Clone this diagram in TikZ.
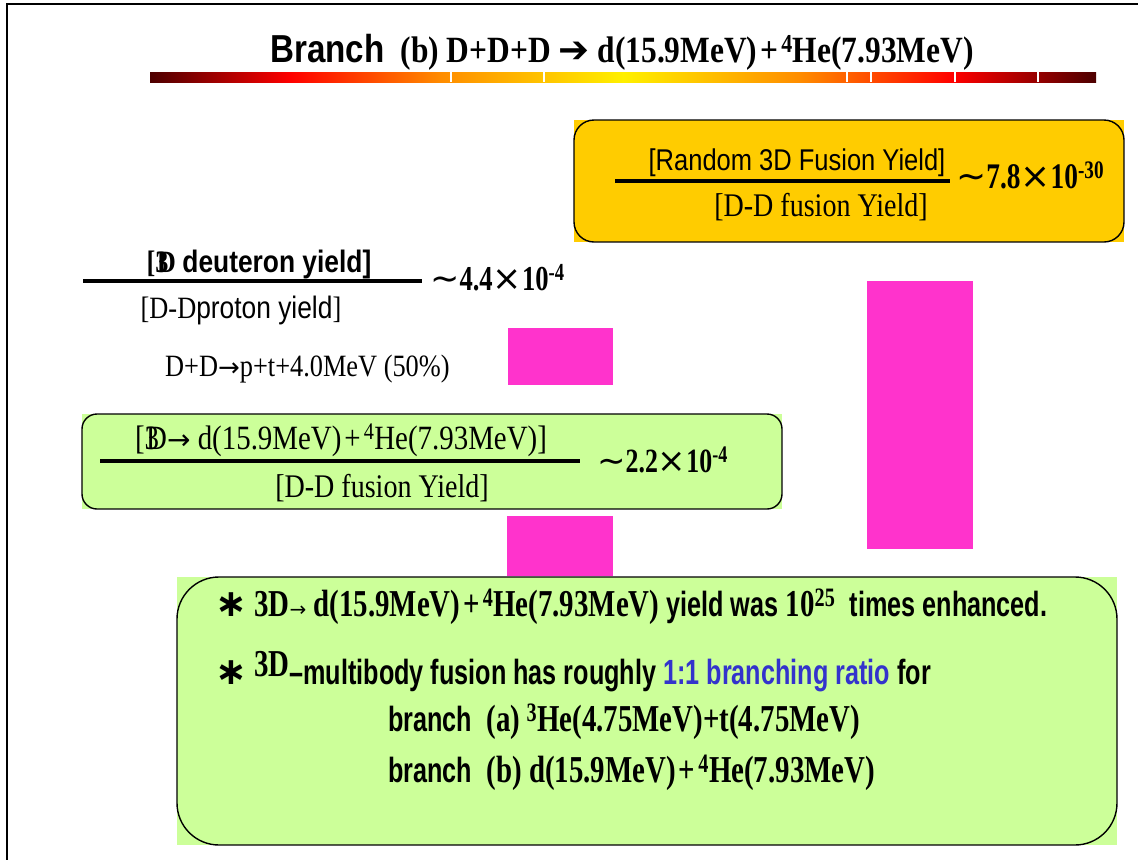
\documentclass[tikz,border=0pt]{standalone}
\usepackage{fontspec}
\setmainfont{Liberation Serif}[FakeStretch=0.85]
\setsansfont{Liberation Sans}[FakeStretch=0.85]
\newfontfamily\glyphfont{DejaVu Sans}
\newfontfamily\boxserif{Liberation Serif}[FakeStretch=0.76]
\newfontfamily\boxsans{Liberation Sans}[FakeStretch=0.72]
\definecolor{slideorange}{HTML}{FFCC00}
\definecolor{slidegreen}{HTML}{CCFF99}
\definecolor{slidepink}{HTML}{FF33CC}
\definecolor{slideblue}{HTML}{3333CC}
\definecolor{bardark}{HTML}{4D0000}
\definecolor{barorange}{HTML}{FF8C00}
\definecolor{baryellow}{HTML}{FFF000}
\newcommand\setfs[1]{\fontsize{#1}{#1}\selectfont}
\newcommand\starmark{{\glyphfont\bfseries ∗}}
\newcommand\approxsign{{\glyphfont\mdseries ∼}}
\newcommand\timessign{{\glyphfont\mdseries ×}}
\newcommand\thinarrow[1]{{\glyphfont\mdseries\setfs{#1}→}}

\begin{document}
\begin{tikzpicture}[x=1pt, y=-1pt,
  txt/.style={inner sep=0pt, anchor=base west},
  ctxt/.style={inner sep=0pt, anchor=base},
  panel/.style={draw=black, line width=1.4pt},
  fracline/.style={line width=3.5pt}
]
\useasboundingbox (0,0) rectangle (1138,860);
\fill[white] (0,0) rectangle (1138,860);
% slide frame
\draw[line width=2.2pt] (1138,4) -- (7,4) -- (7,860);

% title and heat bar
\node[ctxt] (title) at (622,62) {{\setfs{39}\sffamily\bfseries Branch}\hspace{16pt}{\setfs{37}\bfseries (b) D+D+D {\glyphfont ➔} d(15.9MeV)\kern3pt+\kern3pt\textsuperscript{4}He(7.93MeV)}};
\foreach \xa/\xb/\ca/\cb in {150/291/bardark/red, 290/441/red/barorange, 440/624/barorange/baryellow,
                             623/801/baryellow/barorange, 800/954/barorange/red, 953/1096/red/bardark}
  \shade[left color=\ca, right color=\cb] (\xa,72) rectangle (\xb,82);
\foreach \gx in {451,544,847,871,955,1038}
  \draw[white, line width=1.5pt] (\gx,72) -- (\gx,82);

% random 3D fusion panel
\fill[slideorange] (574,120) rectangle (1124,242);
\draw[panel, rounded corners=20pt] (574,120) rectangle (1124,242);
\node[ctxt] (randnum) at (797,170) {\setfs{30}\sffamily [Random 3D Fusion Yield]};
\draw[fracline] (615,181) -- (950,181);
\node[ctxt] (randden) at (821,216) {\setfs{33}[D-D fusion Yield]};
\node[txt] (randval) at (956,188) {\setfs{36}\boxserif\bfseries\approxsign 7.8\timessign 10\textsuperscript{-30}};

% deuteron ratio
\node[ctxt] (deunum) at (259,272) {\setfs{31}\bfseries [3\kern-.38em D {\sffamily deuteron yield]}};
\draw[fracline] (83,281) -- (422,281);
\node[ctxt] (deuden) at (241,318) {\setfs{31}[D-D{\sffamily proton yield}]};
\node[txt] (deuval) at (430,290) {\setfs{35}\boxserif\bfseries\approxsign 4.4\timessign 10\textsuperscript{-4}};
\node[txt] (ddpt) at (165,376) {\setfs{31}D+D\thinarrow{26}p+t+4.0MeV (50\%)};

% branch (b) ratio panel
\fill[slidegreen] (82,414) rectangle (782,509);
\draw[panel, rounded corners=15pt] (82,414) rectangle (782,509);
\node[ctxt] (brnum) at (341,449) {\setfs{34}[3\kern-.38em D\thinarrow{28} d(15.9MeV)\kern3pt+\kern3pt\textsuperscript{4}He(7.93MeV)]};
\draw[fracline] (100,461) -- (580,461);
\node[ctxt] (brden) at (382,497) {\setfs{33}[D-D fusion Yield]};
\node[txt] (brval) at (597,472) {\setfs{34}\boxserif\bfseries\approxsign 2.2\timessign 10\textsuperscript{-4}};

% pink bars
\fill[slidepink] (508,328) rectangle (613,385);
\fill[slidepink] (507,516) rectangle (613,576);
\fill[slidepink] (867,281) rectangle (973,549);

% summary panel
\fill[slidegreen] (177,577) rectangle (1117,845);
\draw[panel, rounded corners=42pt] (177,577) rectangle (1117,845);
\node[txt] (sumone) at (215,616) {\setfs{38}\boxserif\bfseries\starmark\ 3D\thinarrow{20} d(15.9MeV)\kern3pt+\kern3pt\textsuperscript{4}He(7.93MeV) {\boxsans\setfs{35}yield was} 10\textsuperscript{25}\ \ {\boxsans\setfs{35}times enhanced.}};
\node[txt] (sumtwo) at (215,684) {\setfs{38}\boxserif\bfseries\starmark\ \raisebox{8pt}{3D}{\boxsans\setfs{35}–multibody fusion has roughly \textcolor{slideblue}{1:1 branching ratio} for}};
\node[txt] (brancha) at (388,731) {\setfs{38}\boxserif\bfseries{\boxsans\setfs{35}branch}\ \ (a)\,\textsuperscript{3}He(4.75MeV)+t(4.75MeV)};
\node[txt] (branchb) at (388,782) {\setfs{38}\boxserif\bfseries{\boxsans\setfs{35}branch}\ \ (b) d(15.9MeV)\kern3pt+\kern3pt\textsuperscript{4}He(7.93MeV)};
\end{tikzpicture}
\end{document}
